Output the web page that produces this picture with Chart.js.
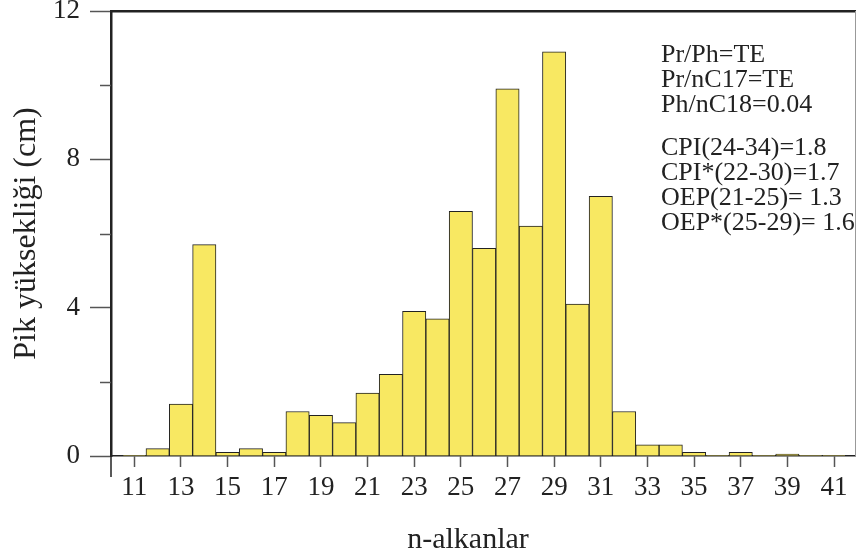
<!DOCTYPE html>
<html>
<head>
<meta charset="utf-8">
<script src="https://cdn.jsdelivr.net/npm/chart.js@4.4.1/dist/chart.umd.min.js"></script>
<style>
  html, body { margin: 0; padding: 0; background: #fff; }
  #wrap { width: 856px; height: 558px; position: relative; }
</style>
</head>
<body>
<div id="wrap"><canvas id="myChart"></canvas></div>
<script>
// n-alkan numaralari (x ekseni)
const nAlkanes = [11, 12, 13, 14, 15, 16, 17, 18, 19, 20, 21, 22, 23, 24, 25, 26,
    27, 28, 29, 30, 31, 32, 33, 34, 35, 36, 37, 38, 39, 40, 41];
// pik yuksekligi (cm)
const peakHeights = [0.02, 0.2, 1.4, 5.7, 0.1, 0.2, 0.1, 1.2, 1.1, 0.9, 1.7, 2.2, 3.9, 3.7, 6.6, 5.6,
    9.9, 6.2, 10.9, 4.1, 7.0, 1.2, 0.3, 0.3, 0.1, 0.02, 0.1, 0.02, 0.05, 0.02, 0.02];
// eksen etiketleri
const xTickLabels = [11, 13, 15, 17, 19, 21, 23, 25, 27, 29, 31, 33, 35, 37, 39, 41];
const yTickLabels = [0, 4, 8, 12];
const yMinorTicks = [2, 6, 10];
// sag ustteki parametreler
const ratioLines = ['Pr/Ph=TE', 'Pr/nC17=TE', 'Ph/nC18=0.04'];
const indexLines = ['CPI(24-34)=1.8', 'CPI*(22-30)=1.7', 'OEP(21-25)= 1.3', 'OEP*(25-29)= 1.6'];

const serif = 'Liberation Serif';
const tickGray = '#555';

// kisa ara tikler + yazilar
const extrasPlugin = {
    id: 'extras',
    afterDraw(chart) {
        const ctx = chart.ctx;
        const y = chart.scales.y;
        const area = chart.chartArea;
        ctx.save();
        ctx.strokeStyle = tickGray;
        ctx.lineWidth = 1.5;
        yMinorTicks.forEach(v => {
            const py = Math.round(y.getPixelForValue(v)) + 0.5;
            ctx.beginPath();
            ctx.moveTo(area.left - 11, py);
            ctx.lineTo(area.left, py);
            ctx.stroke();
        });
        // y ekseni alta dogru uzanir
        ctx.strokeStyle = '#222';
        ctx.lineWidth = 1.5;
        ctx.beginPath();
        ctx.moveTo(area.left, area.bottom);
        ctx.lineTo(area.left, area.bottom + 21);
        ctx.stroke();

        ctx.fillStyle = '#222';
        ctx.font = '26px "' + serif + '"';
        ctx.textBaseline = 'alphabetic';
        ctx.textAlign = 'left';
        ratioLines.forEach((t, i) => ctx.fillText(t, 661, 62 + i * 25));
        indexLines.forEach((t, i) => ctx.fillText(t, 661, 155 + i * 25));
        ctx.restore();
    }
};

const noPad = (scale) => {
    scale.paddingTop = 0;
    scale.paddingBottom = 0;
    scale.paddingLeft = 0;
    scale.paddingRight = 0;
};

const ctx = document.getElementById('myChart').getContext('2d');
const chart = new Chart(ctx, {
    type: 'bar',
    data: {
        datasets: [{
            data: nAlkanes.map((n, i) => ({ x: n, y: peakHeights[i] })),
            backgroundColor: '#f8e862',
            borderColor: '#222',
            borderWidth: 1,
            barPercentage: 1,
            categoryPercentage: 1,
        }]
    },
    options: {
        responsive: true,
        maintainAspectRatio: false,
        animation: false,
        plugins: {
            legend: { display: false },
            tooltip: { enabled: false },
        },
        layout: { padding: 0 },
        scales: {
            x: {
                type: 'linear',
                position: 'bottom',
                offset: false,
                min: 10,
                max: 41.9,
                afterBuildTicks: (scale) => {
                    scale.ticks = xTickLabels.map(v => ({ value: v }));
                },
                afterFit: (scale) => { scale.height = 102; noPad(scale); },
                grid: { offset: false, drawOnChartArea: false, tickLength: 11, tickColor: tickGray, tickWidth: 1.5 },
                border: { color: '#222', width: 1.5 },
                ticks: {
                    font: { family: serif, size: 27 },
                    color: '#222',
                    padding: 5,
                    maxRotation: 0,
                    autoSkip: false,
                },
                title: {
                    display: true,
                    // sondaki bosluklar basligi biraz sola kaydiriyor
                    text: 'n-alkanlar\u00a0\u00a0\u00a0\u00a0',
                    font: { family: serif, size: 30, lineHeight: 1 },
                    color: '#222',
                    padding: { top: 0, bottom: 3 },
                },
            },
            xTop: {
                type: 'linear',
                position: 'top',
                offset: false,
                min: 10,
                max: 41.9,
                afterFit: (scale) => { scale.height = 11; noPad(scale); },
                grid: { offset: false, drawOnChartArea: false, drawTicks: false },
                border: { color: '#222', width: 2.5 },
                ticks: { display: false },
            },
            y: {
                min: 0,
                max: 12,
                afterBuildTicks: (scale) => {
                    scale.ticks = yTickLabels.map(v => ({ value: v }));
                },
                afterFit: (scale) => { scale.width = 111; noPad(scale); },
                grid: { drawOnChartArea: false, tickLength: 21, tickColor: tickGray, tickWidth: 1.5 },
                border: { color: '#222', width: 2.5 },
                ticks: {
                    font: { family: serif, size: 27 },
                    color: '#222',
                    padding: 10,
                },
                title: {
                    display: true,
                    text: 'Pik yüksekliği (cm)',
                    font: { family: serif, size: 32, lineHeight: 1 },
                    color: '#222',
                    padding: { top: 11, bottom: 0 },
                },
            },
            yRight: {
                position: 'right',
                min: 0,
                max: 12,
                afterFit: (scale) => { scale.width = 1; noPad(scale); },
                grid: { drawOnChartArea: false, drawTicks: false },
                border: { color: '#999', width: 1 },
                ticks: { display: false },
            },
        },
    },
    plugins: [extrasPlugin],
});
</script>
</body>
</html>
